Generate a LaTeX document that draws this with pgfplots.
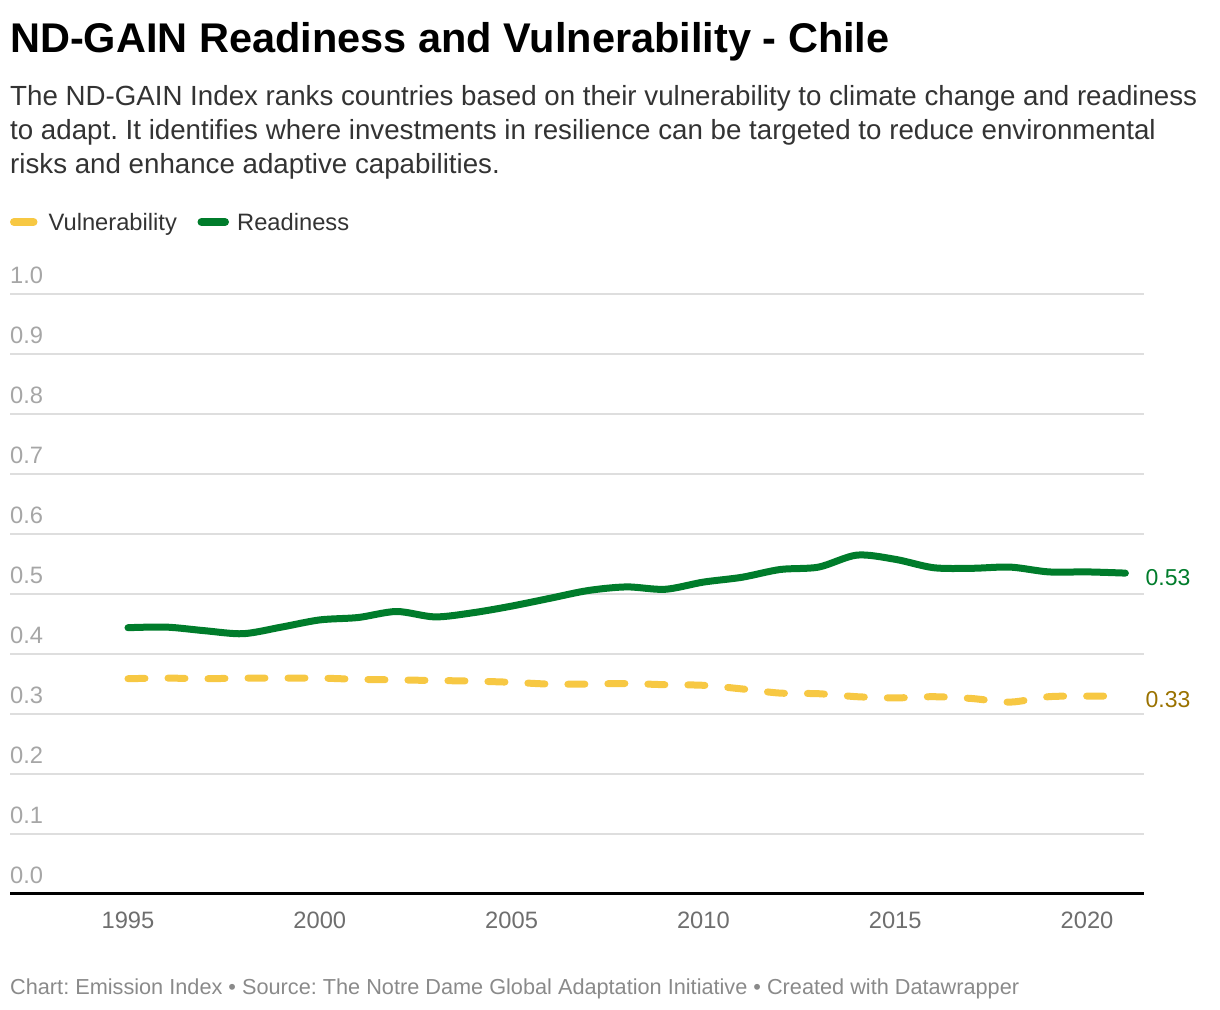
\documentclass[border=0pt]{standalone}
\usepackage{pgfplots}
\usepackage{pgfplotstable}
\pgfplotsset{compat=1.18}
\usepackage{fontspec}
\setmainfont{Liberation Sans}
\frenchspacing
\definecolor{ready}{HTML}{007C2B}
\definecolor{vuln}{HTML}{F7C843}
\definecolor{vulnlab}{HTML}{9A7200}
\definecolor{gridc}{HTML}{DEDEDE}
\definecolor{subc}{HTML}{333333}
\definecolor{ytc}{HTML}{A6A6A6}
\definecolor{xtc}{HTML}{6E6E6E}
\definecolor{footc}{HTML}{8A8A8A}

\pgfplotstableread{
year val
1995 0.443
1996 0.444
1997 0.438
1998 0.433
1999 0.444
2000 0.456
2001 0.460
2002 0.470
2003 0.461
2004 0.468
2005 0.479
2006 0.492
2007 0.505
2008 0.511
2009 0.507
2010 0.519
2011 0.527
2012 0.540
2013 0.544
2014 0.564
2015 0.557
2016 0.543
2017 0.542
2018 0.544
2019 0.536
2020 0.536
2021 0.534
}\readiness

\pgfplotstableread{
year val
1995 0.358
1996 0.359
1997 0.358
1998 0.359
1999 0.359
2000 0.359
2001 0.357
2002 0.356
2003 0.355
2004 0.354
2005 0.352
2006 0.349
2007 0.349
2008 0.350
2009 0.348
2010 0.347
2011 0.341
2012 0.334
2013 0.333
2014 0.328
2015 0.326
2016 0.328
2017 0.325
2018 0.319
2019 0.328
2020 0.329
2021 0.329
}\vulnerability

\begin{document}
\begin{tikzpicture}
\useasboundingbox (0,0) rectangle (1220bp,-1010bp);
% title
\node[anchor=base west, inner sep=0pt, font=\fontsize{41.5bp}{48bp}\selectfont\bfseries] at (10bp,-52bp) {ND-GAIN Readiness and Vulnerability - Chile};
% subtitle
\node[anchor=base west, inner sep=0pt, text=subc, font=\fontsize{27.7bp}{32bp}\selectfont] at (10bp,-105bp) {The ND-GAIN Index ranks countries based on their vulnerability to climate change and readiness};
\node[anchor=base west, inner sep=0pt, text=subc, font=\fontsize{27.7bp}{32bp}\selectfont] at (10bp,-139bp) {to adapt. It identifies where investments in resilience can be targeted to reduce environmental};
\node[anchor=base west, inner sep=0pt, text=subc, font=\fontsize{27.7bp}{32bp}\selectfont] at (10bp,-173bp) {risks and enhance adaptive capabilities.};
% legend
\draw[vuln, line width=8bp, line cap=round] (14bp,-222bp) -- (33.5bp,-222bp);
\node[anchor=base west, inner sep=0pt, text=subc, font=\fontsize{23.7bp}{28bp}\selectfont] at (48.5bp,-230bp) {Vulnerability};
\draw[ready, line width=8bp, line cap=round] (201.5bp,-222bp) -- (225bp,-222bp);
\node[anchor=base west, inner sep=0pt, text=subc, font=\fontsize{23.7bp}{28bp}\selectfont] at (237bp,-230bp) {Readiness};
% footer
\node[anchor=base west, inner sep=0pt, text=footc, font=\fontsize{21.7bp}{25bp}\selectfont] at (10bp,-994bp) {Chart: Emission Index \textbullet{} Source: The Notre Dame Global Adaptation Initiative \textbullet{} Created with Datawrapper};

\begin{axis}[
  at={(10bp,-893.5bp)}, anchor=south west,
  scale only axis, width=1134bp, height=600bp,
  xmin=1991.924, xmax=2021.486, ymin=0, ymax=1,
  separate axis lines,
  axis x line*=bottom, axis y line*=left,
  x axis line style={black, line width=2.2bp, -},
  y axis line style={draw=none},
  major tick length=0pt,
  xtick={1995,2000,2005,2010,2015,2020},
  ytick={0,0.1,0.2,0.3,0.4,0.5,0.6,0.7,0.8,0.9,1.0},
  yticklabels={0.0,0.1,0.2,0.3,0.4,0.5,0.6,0.7,0.8,0.9,1.0},
  /pgf/number format/assume math mode=true,
  /pgf/number format/1000 sep={},
  xticklabel style={anchor=base, inner sep=0pt, yshift=-34.5bp, text=xtc, font=\fontsize{23.7bp}{28bp}\selectfont},
  yticklabel style={anchor=base west, inner sep=0pt, yshift=10bp, text=ytc, font=\fontsize{23.7bp}{28bp}\selectfont},
  ymajorgrids, grid style={gridc, line width=2bp},
  clip=false,
]
\addplot[vuln, line width=7bp, line cap=round, dash pattern=on 17bp off 23bp, smooth, tension=0.5] table[x=year,y=val] {\vulnerability};
\addplot[ready, line width=7bp, line cap=round, line join=round, smooth, tension=0.5] table[x=year,y=val] {\readiness};
\node[anchor=west, inner sep=0pt, text=ready, font=\fontsize{23bp}{28bp}\selectfont] at (axis cs:2021,0.527) [xshift=20bp] {0.53};
\node[anchor=west, inner sep=0pt, text=vulnlab, font=\fontsize{23bp}{28bp}\selectfont] at (axis cs:2021,0.324) [xshift=20bp] {0.33};
\end{axis}
\end{tikzpicture}
\end{document}
